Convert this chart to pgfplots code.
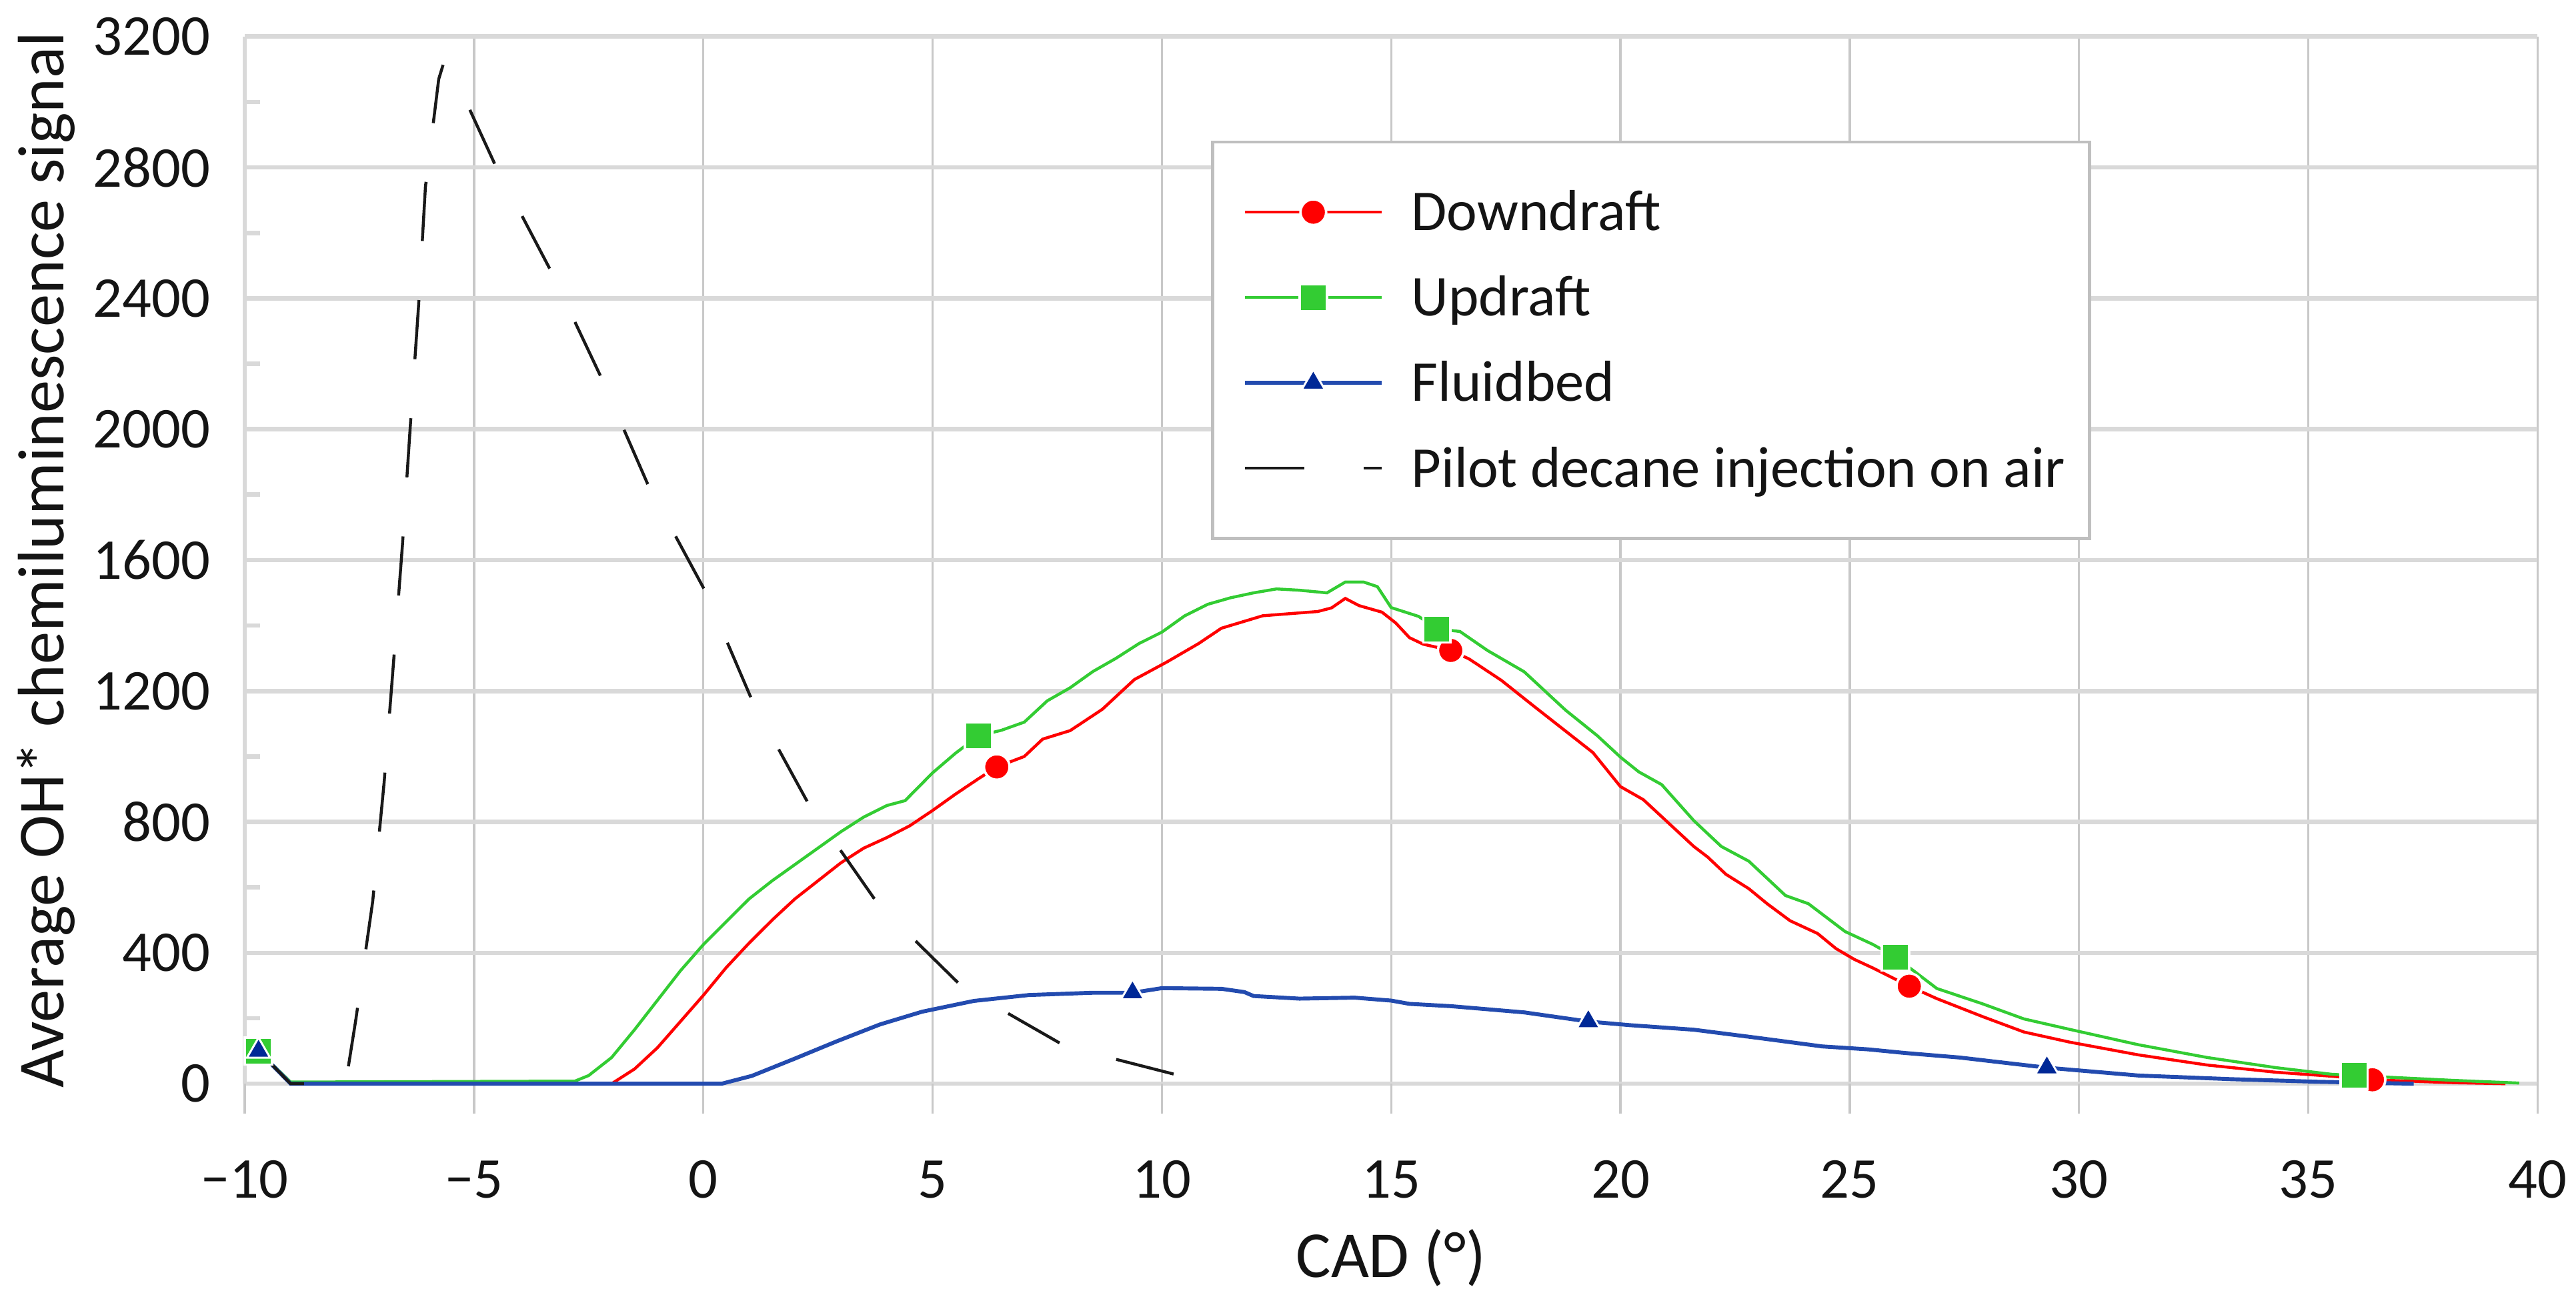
\documentclass[border=0pt]{standalone}
\usepackage{fontspec}
\setmainfont{Carlito}
\usepackage{pgfplots}
\pgfplotsset{compat=1.18}
\definecolor{lred}{RGB}{255,0,0}
\definecolor{lgreen}{RGB}{51,204,51}
\definecolor{lblue}{RGB}{35,75,175}
\definecolor{mblue}{RGB}{0,40,150}
\definecolor{gridh}{RGB}{217,217,217}
\definecolor{gridv}{RGB}{200,200,200}
\definecolor{lgray}{RGB}{191,191,191}
\definecolor{txt}{RGB}{20,20,20}
\pgfplotsset{
  legline/.style={legend image code/.code={
     \path[draw=none,fill=none] (0pt,0pt) -- (35.3pt,0pt);
     \draw[mark repeat=2,mark phase=2,##1] plot coordinates {(1.6pt,0pt) (15.4pt,0pt) (29.2pt,0pt)};}},
  legdash/.style={legend image code/.code={
     \path[draw=none,fill=none] (0pt,0pt) -- (35.3pt,0pt);
     \draw[##1] (1.6pt,0pt) -- (29.2pt,0pt);}},
}
\begin{document}
\begin{tikzpicture}
\begin{axis}[
  at={(49.6pt,43.9pt)}, anchor=south west,
  scale only axis, width=464.6pt, height=212.2pt,
  xmin=-10, xmax=40, ymin=0, ymax=3200,
  clip=false,
  xtick={-10,-5,0,5,10,15,20,25,30,35,40},
  xticklabels={−10,−5,0,5,10,15,20,25,30,35,40},
  ytick={0,400,800,1200,1600,2000,2400,2800,3200},
  yticklabels={0,400,800,1200,1600,2000,2400,2800,3200},
  minor ytick={200,600,1000,1400,1800,2200,2600,3000},
  xmajorgrids, ymajorgrids,
  x grid style={gridv, line width=0.45pt},
  y grid style={gridh, line width=0.9pt},
  separate axis lines,
  axis x line*=bottom, axis y line*=left,
  x axis line style={draw=none},
  y axis line style={gridh, line width=0.9pt, -},
  tick align=inside,
  major tick length=6.1pt, minor tick length=3.1pt,
  major x tick style={gridv, line width=0.45pt, yshift=-6.1pt},
  major y tick style={draw=none},
  minor y tick style={gridh, line width=0.9pt},
  xticklabel style={anchor=base, yshift=-23.2pt, inner sep=0pt, text=txt, font=\fontsize{11.7}{14}\selectfont},
  yticklabel style={anchor=east, xshift=-6.8pt, inner sep=0pt, text=txt, font=\fontsize{11.7}{14}\selectfont},
  xlabel={CAD (°)},
  ylabel={Average OH* chemiluminescence signal},
  xlabel style={at={([yshift=-39.2pt]axis description cs:0.5,0)}, anchor=base, inner sep=0pt, text=txt, font=\fontsize{13.3}{16}\selectfont},
  ylabel style={at={([xshift=-36.7pt]axis description cs:0,0.5)}, anchor=base, inner sep=0pt, text=txt, font=\fontsize{13.3}{16}\selectfont},
  legend cell align=left,
  legend style={at={(0.4215,0.9006)}, anchor=north west, draw=lgray, line width=0.6pt, fill=white,
     inner xsep=5pt, inner ysep=7.55pt, row sep=4pt, column sep=0pt,
     font=\fontsize{11.7}{14}\selectfont, text=txt,
     nodes={inner sep=0pt, text height=10.4pt, text depth=2.9pt}},
]
% Downdraft
\addplot[lred, line width=0.6pt, forget plot] coordinates {
(-9.7,100) (-9.0,0) (-2.0,0) (-1.5,45) (-1.0,110) (-0.5,190) (0,270) (0.5,355) (1.0,430) (1.5,500) (2.0,565) (2.5,620) (3.0,675) (3.5,720) (4.0,752) (4.5,788) (5.0,835) (5.5,885) (6.0,932) (6.4,968) (7.0,1000) (7.4,1053) (8.0,1079) (8.7,1144) (9.4,1235) (10.1,1288) (10.8,1345) (11.3,1392) (12.2,1430) (13.4,1443) (13.7,1454) (14.0,1483) (14.3,1461) (14.8,1441) (15.1,1408) (15.4,1363) (15.7,1343) (16.3,1324) (16.7,1298) (17.4,1233) (18.1,1155) (18.8,1078) (19.4,1012) (20.0,908) (20.5,868) (20.8,829) (21.2,777) (21.6,725) (21.9,693) (22.3,640) (22.8,596) (23.2,550) (23.7,498) (24.3,459) (24.7,413) (25.1,380) (25.5,354) (26.3,298) (26.9,260) (27.9,205) (28.8,158) (29.8,127) (31.3,88) (32.8,57) (34.3,35) (35.5,23) (36.4,12) (38.2,3) (39.3,0)
};
\addplot[only marks, mark=*, mark size=2.6pt, mark options={fill=lred, draw=white, line width=0.5pt}, forget plot] coordinates {
(-9.7,100) (6.4,968) (16.3,1324) (26.3,298) (36.4,12)
};
% Updraft
\addplot[lgreen, line width=0.6pt, forget plot] coordinates {
(-9.7,100) (-9.0,5) (-2.8,8) (-2.5,25) (-2.0,80) (-1.5,165) (-1.0,255) (-0.5,345) (0,425) (0.5,495) (1.0,565) (1.5,620) (2.0,670) (2.5,720) (3.0,770) (3.5,815) (4.0,850) (4.4,865) (5.0,950) (5.5,1010) (6.0,1063) (6.5,1080) (7.0,1105) (7.5,1170) (8.0,1210) (8.5,1260) (9.0,1300) (9.5,1345) (10.0,1380) (10.5,1430) (11.0,1465) (11.5,1485) (12.0,1500) (12.5,1512) (13.0,1508) (13.6,1500) (14.0,1533) (14.4,1533) (14.7,1519) (15.0,1455) (15.6,1428) (16.0,1390) (16.5,1382) (17.1,1324) (17.9,1259) (18.8,1142) (19.5,1063) (20.0,998) (20.4,953) (20.9,914) (21.6,804) (22.2,725) (22.8,680) (23.6,575) (24.1,550) (24.9,465) (25.5,426) (26.0,387) (26.9,291) (27.9,244) (28.8,198) (29.8,166) (31.3,119) (32.8,80) (34.3,49) (35.5,29) (36.0,25) (38.2,10) (39.6,2)
};
\addplot[only marks, mark=square*, mark size=2.75pt, mark options={fill=lgreen, draw=white, line width=0.5pt}, forget plot] coordinates {
(-9.7,100) (6.0,1063) (16.0,1390) (26.0,387) (36.0,25)
};
% Fluidbed
\addplot[lblue, line width=0.8pt, forget plot] coordinates {
(-9.7,100) (-9.0,0) (0.4,0) (1.06,24) (2.0,77) (2.9,129) (3.85,181) (4.77,220) (5.9,253) (7.1,271) (8.5,278) (9.36,278) (10.0,292) (11.3,290) (11.8,280) (12.0,268) (13.0,260) (14.2,263) (15.0,254) (15.4,244) (16.3,237) (17.9,218) (19.3,190) (20.2,179) (21.6,165) (23.0,140) (24.4,114) (25.4,105) (26.2,94) (27.4,80) (29.3,49) (31.3,25) (33.3,14) (35.2,6) (37.3,0)
};
\addplot[only marks, mark=triangle*, mark size=2.7pt, mark options={fill=mblue, draw=white, line width=0.4pt}, forget plot] coordinates {
(-9.7,100) (9.36,278) (19.3,190) (29.3,49)
};
% Pilot decane injection on air
\addplot[black!90, line width=0.6pt, dash pattern=on 12pt off 12pt, forget plot] coordinates {
(-9.7,100) (-9.0,0) (-7.8,0) (-7.58,194) (-7.21,557) (-6.96,922) (-6.76,1280) (-6.56,1649) (-6.39,2010) (-6.21,2377) (-6.06,2741) (-5.77,3070) (-5.65,3125) (-5.4,3070) (-4.55,2811) (-3.34,2488) (-2.23,2159) (-1.19,1825) (0.05,1503) (1.08,1166) (2.33,846) (3.81,549) (5.66,294) (7.9,114) (10.41,24) (11.1,10)
};
\addlegendimage{lred, line width=0.6pt, mark=*, mark size=2.6pt, mark options={fill=lred, draw=white, line width=0.5pt}, legline}
\addlegendentry{Downdraft}
\addlegendimage{lgreen, line width=0.6pt, mark=square*, mark size=2.75pt, mark options={fill=lgreen, draw=white, line width=0.5pt}, legline}
\addlegendentry{Updraft}
\addlegendimage{lblue, line width=0.8pt, mark=triangle*, mark size=2.7pt, mark options={fill=mblue, draw=white, line width=0.4pt}, legline}
\addlegendentry{Fluidbed}
\addlegendimage{black!90, line width=0.6pt, dash pattern=on 12pt off 12pt, legdash}
\addlegendentry{Pilot decane injection on air}
\end{axis}
\pgfresetboundingbox
\path[use as bounding box] (0,0) rectangle (522pt,263.5pt);
\end{tikzpicture}
\end{document}
